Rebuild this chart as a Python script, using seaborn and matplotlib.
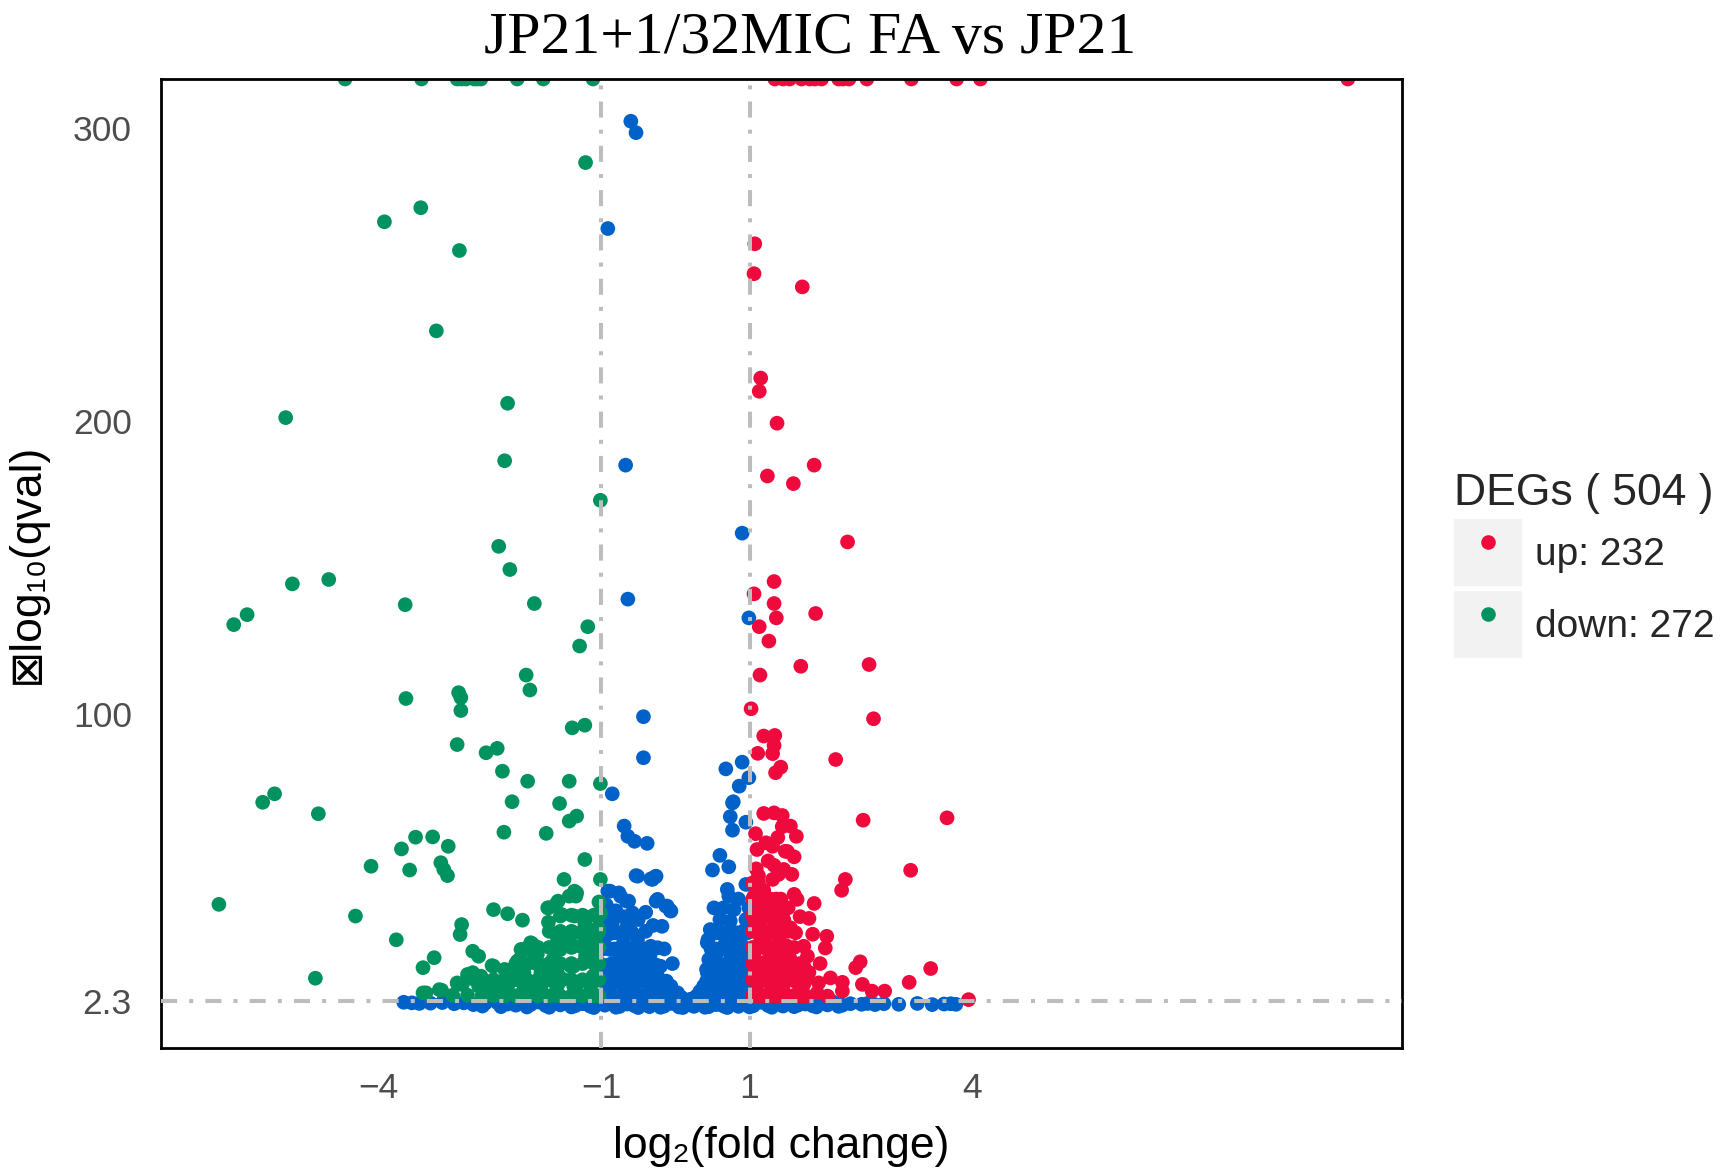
import numpy as np
import pandas as pd
import matplotlib
matplotlib.use("Agg")
import matplotlib.pyplot as plt
import seaborn as sns
from matplotlib.patches import Rectangle
from matplotlib.lines import Line2D
from matplotlib.legend_handler import HandlerTuple

# ---------------- data ----------------
title = "JP21+1/32MIC FA vs JP21"
legend_title = "DEGs ( 504 )"
group_labels = ["up: 232", "down: 272"]
x_label = "log\u2082(fold change)"
y_label = "\u22a0log\u2081\u2080(qval)"
xtick_values = [-4, -1, 1, 4]
xtick_labels = ["\u22124", "\u22121", "1", "4"]
ytick_values = [2.3, 100, 200, 300]
ytick_labels = ["2.3", "100", "200", "300"]
fc_cut = [-1, 1]
q_cut = 2.3
y_cap = 316.7

up_log2fc = [1.34, 1.45, 1.54, 1.70, 1.81, 1.88, 1.97, 2.20, 2.26, 2.34, 2.58, 3.18, 3.79, 4.11, 9.06,
             1.07, 1.06, 1.71, 1.15, 1.13, 1.37, 1.87, 1.24, 1.59, 2.32, 1.33, 1.06, 1.33, 1.89, 1.36,
             1.13, 1.26, 1.14, 1.69, 2.61, 1.02, 2.67,
             1.19, 1.34, 1.33, 1.31, 1.11, 2.16, 1.42, 1.35,
             1.19, 1.33, 1.44, 1.44, 1.55, 1.63, 2.53, 3.66, 1.08, 1.22, 1.31, 1.10, 1.51, 1.60, 1.09,
             1.33, 1.46, 1.57, 1.39, 3.17, 2.29, 2.24, 1.31, 1.48,
             1.19, 1.60, 1.64, 1.87, 1.80, 2.04, 1.15, 1.28, 1.37, 1.24, 1.15, 1.33, 1.46, 1.55, 1.62,
             1.73, 1.78, 1.15, 1.24, 1.37, 1.46, 1.19, 1.33, 1.46, 1.55, 1.64, 1.73, 1.13, 1.28, 1.46,
             1.64, 1.73, 1.93, 2.09, 2.25, 2.25, 2.43, 2.49, 2.52, 2.65, 2.82, 3.15, 3.44, 3.95, 1.73,
             1.91, 2.05, 1.55, 1.37, 1.19, 2.02,
             1.06, 1.06, 1.06, 1.06, 1.10, 1.20, 1.30, 1.40, 1.50, 1.50, 1.42, 1.52, 1.68, 1.70, 1.80,
             1.85, 1.95, 1.12, 1.25, 1.38, 1.22, 1.30, 1.60]
up_logq = [316.7, 316.7, 316.7, 316.7, 316.7, 316.7, 316.7, 316.7, 316.7, 316.7, 316.7, 316.7, 316.7, 316.7, 316.7,
           260.5, 250.3, 245.8, 214.7, 210.2, 199.3, 185.0, 181.3, 178.7, 158.8, 145.3, 141.1, 137.8, 134.4, 132.9,
           129.9, 125.0, 113.4, 116.4, 117.0, 101.9, 98.5,
           92.6, 92.8, 89.4, 86.6, 86.7, 84.6, 82.0, 80.1,
           66.2, 66.4, 65.5, 61.7, 61.9, 58.4, 63.9, 64.7, 59.3, 56.2, 55.0, 53.9, 53.2, 51.4, 47.3,
           48.5, 47.1, 45.4, 45.4, 46.8, 43.7, 40.0, 43.7, 53.3,
           40.0, 38.6, 36.9, 35.5, 30.4, 24.3, 34.6, 35.7, 33.4, 31.2, 27.7, 27.7, 30.0, 27.2, 25.5,
           20.9, 17.5, 23.2, 19.8, 20.9, 17.5, 15.3, 13.0, 13.0, 16.4, 11.9, 14.1, 8.4, 8.4, 7.9,
           8.4, 7.9, 8.4, 10.1, 8.6, 5.6, 13.6, 15.6, 7.9, 5.6, 5.6, 8.6, 13.3, 2.7, 3.9,
           5.0, 3.9, 3.9, 3.9, 3.9, 20.3,
           12.0, 18.0, 30.0, 38.0, 5.0, 11.0, 17.0, 24.0, 21.0, 10.0, 37.0, 34.0, 31.0, 5.5, 12.0,
           25.0, 15.0, 45.0, 50.0, 58.0, 24.0, 6.0, 14.5]

# solid part of the red cloud just right of log2FC = 1
up_fill_log2fc = [1.04, 1.04, 1.04, 1.04, 1.04, 1.04, 1.04, 1.04,
                  1.12, 1.12, 1.12, 1.12, 1.12, 1.12, 1.12, 1.12,
                  1.20, 1.20, 1.20, 1.20, 1.20, 1.20, 1.20,
                  1.28, 1.28, 1.28, 1.28, 1.28, 1.28, 1.28,
                  1.36, 1.36, 1.36, 1.36, 1.36, 1.36, 1.36,
                  1.44, 1.44, 1.44, 1.44, 1.44, 1.44,
                  1.52, 1.52, 1.52, 1.52, 1.52,
                  1.60, 1.60, 1.60, 1.60,
                  1.68, 1.68, 1.68,
                  1.76, 1.76]
up_fill_logq = [4, 9.5, 15, 20.5, 26, 31.5, 37, 42.5,
                4, 9.5, 15, 20.5, 26, 31.5, 37, 42.5,
                4, 9.5, 15, 20.5, 26, 31.5, 37,
                4, 9.5, 15, 20.5, 26, 31.5, 37,
                4, 9.5, 15, 20.5, 26, 31.5, 37,
                4, 9.5, 15, 20.5, 26, 31.5,
                4, 9.5, 15, 20.5, 26,
                4, 9.5, 15, 20.5,
                4, 9.5, 15,
                4, 9.5]

down_log2fc = [-4.45, -3.42, -2.94, -2.88, -2.82, -2.71, -2.67, -2.62, -2.13, -1.78, -1.11,
               -1.21, -3.92, -3.43, -2.91, -3.22, -5.25, -2.26, -2.30, -1.01, -2.38, -2.23, -4.67, -5.16,
               -3.64, -1.90, -5.77, -5.95, -1.18, -1.29, -2.01, -1.96, -3.63, -2.92, -2.89, -2.89, -1.22,
               -1.39, -2.94, -2.55, -2.40, -2.33, -1.99, -1.43, -1.01, -5.56, -5.40, -4.81, -2.20, -1.56,
               -1.43, -1.33, -2.31, -1.74, -3.50, -3.27, -3.69, -3.06, -4.10, -3.58, -3.16, -3.12, -3.07,
               -1.22, -1.50, -1.01, -6.15, -4.31, -3.76, -4.85,
               -1.36, -1.33, -2.45, -2.26, -2.06, -1.71, -1.58, -1.53, -1.36, -1.71, -1.01, -1.04, -1.21,
               -2.88, -2.90, -2.73, -2.65, -2.45, -3.25, -3.40, -3.40, -3.18, -2.93, -2.80, -2.70, -2.65,
               -2.45, -2.31, -2.20, -2.10, -2.05, -1.95, -1.91, -1.86, -1.81, -2.20, -1.65, -1.55, -1.46,
               -1.36, -1.16, -1.11, -1.21, -1.41, -1.51, -1.31, -1.11, -1.06, -1.08, -1.60, -1.71, -1.91,
               -2.00, -1.43, -1.34, -1.72, -1.61, -1.55, -1.22, -1.03, -1.59, -1.41, -1.23, -1.37, -1.07,
               -1.10, -2.22, -2.04, -1.81, -1.59, -1.37, -1.19, -2.08, -1.93, -1.86, -2.13, -1.91, -2.47,
               -3.36, -3.15, -2.94, -2.87, -2.73, -2.62, -2.71, -2.49, -2.26, -2.04, -1.81, -1.59, -1.37,
               -1.14, -1.10, -2.60, -2.35, -2.10, -1.85, -1.60, -1.35, -1.10, -3.00, -2.80]
down_logq = [316.7, 316.7, 316.7, 316.7, 316.7, 316.7, 316.7, 316.7, 316.7, 316.7, 316.7,
             288.2, 268.0, 272.8, 258.2, 230.8, 201.2, 206.1, 186.5, 173.0, 157.3, 149.4, 146.0, 144.5,
             137.4, 137.8, 134.0, 130.6, 129.9, 123.3, 113.4, 108.3, 105.4, 107.4, 105.7, 101.3, 96.3,
             95.4, 89.7, 86.9, 88.4, 80.6, 77.2, 77.2, 76.4, 70.0, 72.9, 66.1, 70.2, 69.6,
             63.6, 65.3, 59.8, 59.4, 58.1, 58.2, 54.1, 55.0, 48.2, 46.9, 49.4, 47.1, 45.0,
             50.5, 43.7, 43.7, 35.2, 31.2, 23.1, 10.0,
             39.7, 39.1, 33.4, 32.0, 29.8, 34.0, 36.3, 31.7, 31.2, 29.1, 32.3, 27.2, 27.8,
             28.3, 24.9, 19.2, 17.5, 14.1, 17.0, 13.6, 5.0, 6.1, 7.9, 11.3, 10.2, 7.3,
             6.1, 7.3, 10.7, 16.4, 19.8, 22.1, 18.7, 15.3, 11.9, 13.0, 16.4, 19.8, 23.2,
             25.5, 24.3, 20.9, 17.5, 14.1, 9.6, 8.4, 10.7, 16.4, 23.2, 7.3, 11.9, 8.4,
             6.7, 38.0, 38.0, 34.0, 35.2, 31.2, 28.7, 31.7, 23.8, 25.5, 24.3, 20.9, 26.6,
             22.1, 10.7, 11.9, 13.0, 11.9, 14.1, 16.4, 19.8, 21.8, 18.1, 15.8, 15.3, 14.3,
             5.0, 5.9, 8.4, 7.9, 11.9, 10.7, 9.6, 7.3, 7.3, 7.3, 7.3, 7.3, 7.3,
             7.3, 10.7, 4.2, 4.2, 4.2, 4.2, 4.2, 4.2, 4.2, 4.2, 4.2]

# solid part of the green cloud just left of log2FC = -1
down_fill_log2fc = [-2.60, -2.60, -2.45, -2.45, -2.30, -2.30, -2.30, -2.15, -2.15, -2.15,
                    -2.00, -2.00, -2.00, -2.00, -1.85, -1.85, -1.85, -1.85,
                    -1.70, -1.70, -1.70, -1.70, -1.70, -1.55, -1.55, -1.55, -1.55, -1.55,
                    -1.40, -1.40, -1.40, -1.40, -1.40, -1.40, -1.25, -1.25, -1.25, -1.25, -1.25, -1.25,
                    -1.10, -1.10, -1.10, -1.10, -1.10, -1.10,
                    -1.03, -1.03, -1.03, -1.03, -1.03, -1.03, -1.03]
down_fill_logq = [4, 8, 4, 9.5, 4, 9.5, 13, 4, 9.5, 15,
                  4, 9.5, 15, 20, 4, 9.5, 15, 20.5,
                  4, 9.5, 15, 20.5, 26, 4, 9.5, 15, 20.5, 26,
                  4, 9.5, 15, 20.5, 26, 31.5, 4, 9.5, 15, 20.5, 26, 31.5,
                  4, 9.5, 15, 20.5, 26, 31.5,
                  4, 9.5, 15, 20.5, 26, 31.5, 36]

ns_log2fc = [-0.60, -0.53, -0.91, -0.67, 0.90, -0.64, 0.99, -0.43, -0.43, 0.68, 0.90, 0.99, 0.86, -0.85,
             0.78, 0.74, 0.95, 0.77, -0.69, -0.64, -0.55, -0.38, 0.60, 0.72, 0.50, -0.53, -0.27, -0.33,
             0.77,
             -0.88, -0.74, -0.63, -0.58, -0.40, -0.24, -0.13, -0.07, -0.18, -0.91, -0.76, -0.66, -0.51,
             -0.31, -0.26, -0.26, -0.11, -0.06, -0.85, -0.78, -0.65, -0.51, -0.33, -0.24, -0.87, -0.74,
             -0.56, -0.38, -0.20, -0.96, -0.78, -0.60, -0.42, -0.24, -0.06, 0.03, 0.12,
             -0.95, -0.95, -0.95, -0.93, -0.85, -0.85, -0.80, -0.70, -0.70, -0.70, -0.60, -0.55, -0.50,
             -0.47, -0.45, -0.40, -0.35, -0.30, -0.30, -0.20, -0.15, -0.12, -0.08, -0.04, -0.65, -0.90,
             -0.62, -0.48,
             0.70, 0.72, 0.79, 0.99, 0.74, 0.47, 0.43, 0.45, 0.43, 0.56, 0.65, 0.83, 0.97, 0.92, 0.61,
             0.74, 0.92, 0.38, 0.56, 0.74, 0.97, 0.30, 0.47, 0.65, 0.83, 0.64, 0.44, 0.79, 0.94,
             0.52, 0.58, 0.68, 0.82, 0.88, 0.88, 0.95, 0.60, 0.52, 0.85, 0.95, 0.55, 0.70, 0.80, 0.40,
             0.65, 0.08, 0.20, 0.28, 0.33, -0.02,
             -3.66, -3.55, -3.45, -3.30, -3.14, -2.98, -2.85, -2.72, -2.60, -2.56, -2.40, -2.35, -2.26,
             -2.15, -2.05, -2.00, -1.95, -1.90, -1.85, -1.75, -1.70, -1.65, -1.60, -1.55, -1.45, -1.40,
             -1.35, -1.30, -1.25, -1.15, -1.10, -1.05, -0.95, -0.90, -0.85, -0.80, -0.75, -0.65, -0.60,
             -0.55, -0.50, -0.45, -0.35, -0.30, -0.25, -0.20, -0.15, -0.05, 0.00, 0.05, 0.10, 0.15,
             0.25, 0.30, 0.35, 0.40, 0.45, 0.55, 0.60, 0.65, 0.70, 0.75, 0.85, 0.90, 0.95, 1.00,
             1.05, 1.15, 1.20, 1.25, 1.30, 1.35, 1.45, 1.50, 1.55, 1.60, 1.65, 1.75, 1.80, 1.85,
             1.90, 1.95, 2.05, 2.10, 2.15, 2.20, 2.25, 2.36, 2.51, 2.59, 2.69, 2.81, 3.01, 3.26,
             3.46, 3.62, 3.71, 3.78]
ns_logq = [302.3, 298.4, 265.7, 185.0, 161.8, 139.3, 132.9, 99.2, 85.2, 81.4, 83.7, 78.4, 75.5, 72.9,
           70.2, 65.1, 63.2, 60.5, 61.9, 58.4, 56.7, 56.0, 51.9, 48.0, 46.9, 45.0, 44.6, 43.9,
           69.8,
           39.7, 38.0, 36.3, 32.3, 32.5, 36.9, 34.6, 33.1, 27.7, 39.7, 39.1, 36.3, 44.8,
           43.7, 44.8, 36.3, 34.6, 32.9, 28.9, 25.5, 27.8, 23.2, 20.9, 20.4, 19.8, 17.5,
           17.5, 16.4, 14.1, 22.1, 11.9, 11.9, 11.9, 10.7, 7.3, 5.0, 2.7,
           5.0, 12.0, 30.0, 35.0, 8.0, 15.0, 33.0, 5.0, 22.0, 31.0, 26.0, 7.0, 30.0,
           4.0, 20.0, 26.0, 7.0, 12.0, 28.0, 5.0, 20.0, 9.0, 4.0, 15.0, 14.0, 25.0,
           20.0, 14.0,
           40.3, 38.0, 33.4, 34.0, 29.5, 26.6, 22.1, 16.4, 11.9, 25.5, 20.9, 23.2, 25.5, 18.7, 14.1,
           16.4, 11.9, 7.3, 6.1, 7.3, 7.3, 2.7, 2.7, 2.7, 2.7, 24.9, 23.2, 24.3, 26.6,
           19.0, 10.0, 13.0, 15.0, 5.0, 22.0, 30.0, 30.0, 34.0, 37.0, 42.0, 18.0, 4.5, 10.0, 4.5,
           34.0, 3.5, 2.8, 3.8, 5.5, 4.5,
           1.8, 1.6, 1.4, 1.5, 1.7, 1.3, 1.6, 1.0, 0.5, 1.5, 1.7, 0.3, 1.2,
           0.8, 1.6, 0.2, 1.0, 2.1, 1.9, 0.7, 0.1, 1.4, 2.2, 0.9, 1.8, 0.2,
           0.6, 2.0, 1.3, 0.5, 0.0, 1.7, 0.8, 2.2, 1.5, 0.1, 0.4, 1.2, 2.1,
           0.6, 0.0, 1.9, 0.3, 2.2, 1.1, 0.1, 0.5, 1.4, 2.0, 0.2, 0.0, 0.9,
           0.4, 2.1, 1.3, 0.1, 0.3, 1.0, 2.2, 0.5, 0.0, 1.6, 0.4, 2.0, 1.1, 0.2,
           0.6, 1.8, 2.2, 0.7, 0.1, 1.4, 0.5, 2.0, 1.6, 0.3, 0.8, 1.2, 2.1, 0.6,
           0.2, 1.7, 0.9, 2.2, 1.5, 0.4, 0.8, 1.3, 1.1, 1.4, 1.0, 1.3, 1.1, 1.4,
           1.0, 1.2, 1.3, 1.1]

# solid parts of the two blue clouds between -1 and 1
ns_fill_log2fc = [-0.98, -0.98, -0.98, -0.98, -0.98, -0.98,
                  -0.90, -0.90, -0.90, -0.90, -0.90, -0.90,
                  -0.82, -0.82, -0.82, -0.82, -0.82, -0.82,
                  -0.74, -0.74, -0.74, -0.74, -0.74,
                  -0.66, -0.66, -0.66, -0.66, -0.66,
                  -0.58, -0.58, -0.58, -0.58, -0.58,
                  -0.50, -0.50, -0.50, -0.50,
                  -0.42, -0.42, -0.42, -0.42,
                  -0.34, -0.34, -0.34, -0.34,
                  -0.26, -0.26, -0.26,
                  -0.18, -0.18, -0.10, -0.10, -0.02,
                  0.36, 0.42, 0.42, 0.42,
                  0.48, 0.48, 0.48, 0.48,
                  0.54, 0.54, 0.54, 0.54, 0.54,
                  0.60, 0.60, 0.60, 0.60, 0.60,
                  0.66, 0.66, 0.66, 0.66, 0.66,
                  0.72, 0.72, 0.72, 0.72, 0.72,
                  0.78, 0.78, 0.78, 0.78, 0.78,
                  0.84, 0.84, 0.84, 0.84, 0.84,
                  0.90, 0.90, 0.90, 0.90, 0.90,
                  0.96, 0.96, 0.96, 0.96, 0.96, 0.96]
ns_fill_logq = [3.5, 9, 14.5, 20, 25.5, 31,
                3.5, 9, 14.5, 20, 25.5, 31,
                3.5, 9, 14.5, 20, 25.5, 31,
                3.5, 9, 14.5, 20, 25.5,
                3.5, 9, 14.5, 20, 25.5,
                3.5, 9, 14.5, 20, 25.5,
                3.5, 9, 14.5, 20,
                3.5, 9, 14.5, 20,
                3.5, 9, 14.5, 18,
                3.5, 9, 14.5,
                3.5, 9, 3.5, 7, 3.5,
                3.5, 3.5, 9, 13,
                3.5, 9, 14.5, 20,
                3.5, 9, 14.5, 20, 25.5,
                3.5, 9, 14.5, 20, 25.5,
                3.5, 9, 14.5, 20, 25.5,
                3.5, 9, 14.5, 20, 25.5,
                3.5, 9, 14.5, 20, 25.5,
                3.5, 9, 14.5, 20, 25.5,
                3.5, 9, 14.5, 20, 25.5,
                3.5, 9, 14.5, 20, 25.5, 30]

# ---------------- styling ----------------
sns.set_style("white")
plt.rcParams["font.family"] = ["Liberation Sans", "DejaVu Sans"]

col_up = "#EE0A3C"
col_down = "#00935F"
col_ns = "#0062C8"
palette = {"ns": col_ns, "up": col_up, "down": col_down}

df = pd.concat([
    pd.DataFrame({"log2fc": ns_log2fc + ns_fill_log2fc, "logq": ns_logq + ns_fill_logq, "group": "ns"}),
    pd.DataFrame({"log2fc": up_log2fc + up_fill_log2fc, "logq": up_logq + up_fill_logq, "group": "up"}),
    pd.DataFrame({"log2fc": down_log2fc + down_fill_log2fc, "logq": down_logq + down_fill_logq, "group": "down"}),
], ignore_index=True)

fig = plt.figure(figsize=(17.25, 11.7), dpi=100)
ax = fig.add_axes([161 / 1725, 1 - 1048 / 1170, (1402 - 161) / 1725, (1048 - 79) / 1170])

sns.scatterplot(data=df, x="log2fc", y="logq", hue="group", palette=palette,
                s=112, linewidth=0, alpha=1, legend=False, ax=ax, zorder=2)

line_kw = dict(color="#BDBDBD", lw=2.9, ls=(0, (4, 3, 1, 3)), zorder=3)
ax.axhline(q_cut, **line_kw)
for v in fc_cut:
    ax.axvline(v, **line_kw)

ax.set_xlim(-6.93, 9.79)
ax.set_ylim(-13.8, y_cap)
ax.set_xticks(xtick_values)
ax.set_xticklabels(xtick_labels)
ax.set_yticks(ytick_values)
ax.set_yticklabels(ytick_labels)
ax.tick_params(axis="both", length=9, width=2.6, color="#333333", labelsize=25.5,
               labelcolor="#4D4D4D", direction="out")
ax.tick_params(axis="x", pad=8)
ax.tick_params(axis="y", pad=12)
for sp in ax.spines.values():
    sp.set_visible(True)
    sp.set_color("black")
    sp.set_linewidth(2.0)
ax.grid(False)

ax.set_xlabel(x_label, fontsize=32, color="black")
ax.set_ylabel(y_label, fontsize=32, color="black")
ax.xaxis.set_label_coords(0.5, -0.080)
ax.yaxis.set_label_coords(-0.092, 0.5)

fig.text(810 / 1725, 1 - 53 / 1170, title, ha="center", va="baseline",
         fontsize=43, family="Liberation Serif", color="black")

handles = []
for c in (col_up, col_down):
    handles.append((Rectangle((0, 0), 1, 1, facecolor="#F2F2F2", edgecolor="none"),
                    Line2D([], [], ls="none", marker="o", ms=10.5, mfc=c, mec="none")))
leg = fig.legend(handles, group_labels, title=legend_title, loc="upper left",
                 bbox_to_anchor=(1454 / 1725, 1 - 473 / 1170), frameon=False,
                 borderpad=0, borderaxespad=0, fontsize=28, title_fontsize=32,
                 handlelength=1.75, handleheight=2.28, handletextpad=0.33,
                 labelspacing=0.13, alignment="left",
                 handler_map={tuple: HandlerTuple(ndivide=1, pad=0)})

fig.savefig("out.png", dpi=100)
